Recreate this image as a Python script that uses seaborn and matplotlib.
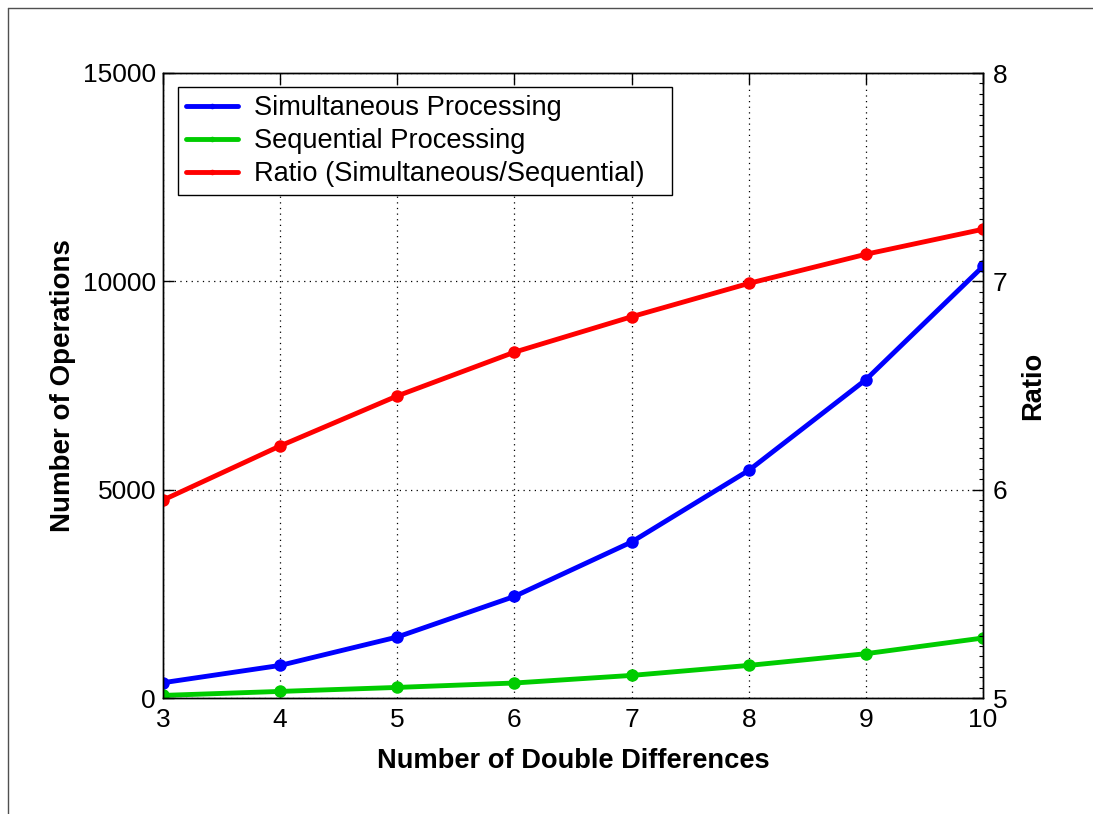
import matplotlib
matplotlib.use("Agg")
import matplotlib.pyplot as plt
from matplotlib.lines import Line2D
from matplotlib.ticker import MultipleLocator
import seaborn as sns

# Operation counts versus number of double differences
double_differences = [3, 4, 5, 6, 7, 8, 9, 10]
simultaneous_ops = [367, 782, 1464, 2438, 3744, 5462, 7639, 10358]
sequential_ops = [62, 158, 254, 360, 542, 782, 1063, 1440]
ratio = [5.95, 6.21, 6.45, 6.66, 6.83, 6.99, 7.13, 7.25]

x_ticks = [3, 4, 5, 6, 7, 8, 9, 10]
left_ticks = [0, 5000, 10000, 15000]
right_ticks = [5, 6, 7, 8]

series_names = ["Simultaneous Processing", "Sequential Processing",
                "Ratio (Simultaneous/Sequential)"]
series_colors = ["#0000ff", "#00cc00", "#ff0000"]

sns.set_style("white")
plt.rcParams["font.family"] = ["Liberation Sans", "DejaVu Sans"]
plt.rcParams.update({
    "text.color": "black",
    "axes.labelcolor": "black",
    "xtick.color": "black",
    "ytick.color": "black",
})

FS = 19
LFS = 19.6
LW = 3.5
MS = 9

fig = plt.figure(figsize=(10.93, 8.14), dpi=100)
ax = fig.add_axes([163 / 1093, 1 - 698 / 814, 820 / 1093, 625 / 814])
ax2 = ax.twinx()

sns.lineplot(x=double_differences, y=simultaneous_ops, ax=ax, color=series_colors[0],
             marker="o", markersize=MS, markeredgewidth=0, linewidth=LW)
sns.lineplot(x=double_differences, y=sequential_ops, ax=ax, color=series_colors[1],
             marker="o", markersize=MS, markeredgewidth=0, linewidth=LW)
sns.lineplot(x=double_differences, y=ratio, ax=ax2, color=series_colors[2],
             marker="o", markersize=MS, markeredgewidth=0, linewidth=LW)

ax.set_xlim(3, 10)
ax.set_ylim(0, 15000)
ax2.set_ylim(5, 8)
ax.set_xticks(x_ticks)
ax.set_xticklabels([str(v) for v in x_ticks])
ax.set_yticks(left_ticks)
ax.set_yticklabels([str(v) for v in left_ticks])
ax2.set_yticks(right_ticks)
ax2.set_yticklabels([str(v) for v in right_ticks])
ax2.yaxis.set_minor_locator(MultipleLocator(0.05))
ax2.xaxis.set_minor_locator(MultipleLocator(0.05))

dotted = (0, (1, 3.5))
ax.grid(True, color="black", linestyle=dotted, linewidth=0.9)
ax2.grid(False)

ax.tick_params(axis="both", which="major", direction="in", length=8, width=1,
               labelsize=FS, colors="black", top=True)
ax.tick_params(axis="x", pad=7)
ax.tick_params(axis="y", pad=5)
ax2.tick_params(axis="y", which="major", direction="in", length=8, width=1,
                labelsize=FS, colors="black", pad=7)
ax2.tick_params(axis="y", which="minor", direction="in", length=3, width=0.8,
                colors="black")
ax2.tick_params(axis="x", which="minor", direction="in", length=2.5, width=0.8,
                colors="black", top=True, bottom=False)

for a in (ax, ax2):
    for side in ("left", "right", "top", "bottom"):
        a.spines[side].set_visible(True)
        a.spines[side].set_color("black")
        a.spines[side].set_linewidth(1.0)

ax.set_xlabel("Number of Double Differences", fontsize=LFS, fontweight="bold",
              labelpad=12)
ax.set_ylabel("Number of Operations", fontsize=20, fontweight="bold", labelpad=5)
ax2.set_ylabel("Ratio", fontsize=LFS, fontweight="bold", labelpad=9)

handles = [Line2D([], [], color=c, linewidth=LW, marker="o", markersize=4,
                  markeredgewidth=0) for c in series_colors]
leg = ax2.legend(handles, series_names, loc="upper left", mode="expand",
                 bbox_to_anchor=(15 / 820, 0.5, 494 / 820, 0.5 - 14 / 625),
                 borderaxespad=0, fontsize=LFS, frameon=True, fancybox=False,
                 framealpha=1, edgecolor="black", handlelength=1.9,
                 handletextpad=0.6, labelspacing=0.26, borderpad=0.3)
leg.get_frame().set_linewidth(1.0)
for t in leg.get_texts():
    t.set_color("black")

# Window frame edges along the top and left
fig.add_artist(Line2D([8 / 1093, 8 / 1093], [0, 1 - 8 / 814], color="#505050",
                      linewidth=1.0, transform=fig.transFigure))
fig.add_artist(Line2D([8 / 1093, 1], [1 - 8 / 814, 1 - 8 / 814], color="#505050",
                      linewidth=1.0, transform=fig.transFigure))

fig.savefig("out.png", dpi=100)
